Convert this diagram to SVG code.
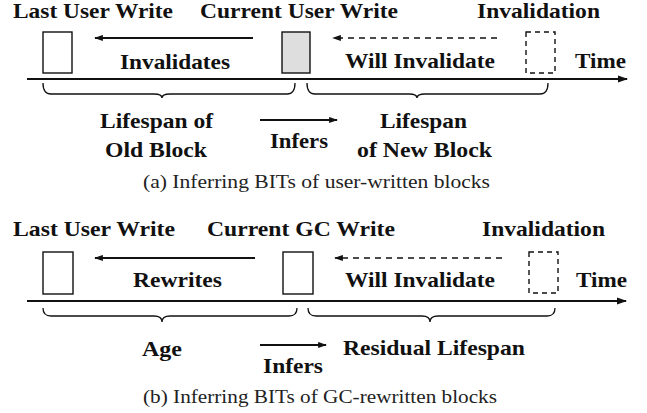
<svg xmlns="http://www.w3.org/2000/svg" width="647" height="413" viewBox="0 0 647 413">
<style>
.b{font-family:"Liberation Serif","Times New Roman",serif;font-weight:bold;font-size:21px;fill:#111}
.c{font-family:"Liberation Serif","Times New Roman",serif;font-size:19px;fill:#222}
.box{fill:#fff;stroke:#111;stroke-width:1.4}
.gray{fill:#dedede;stroke:#111;stroke-width:1.4}
.dbox{fill:none;stroke:#111;stroke-width:1.4;stroke-dasharray:5,4}
.ln{stroke:#111;stroke-width:1.8;fill:none}
.dl{stroke:#111;stroke-width:1.6;fill:none;stroke-dasharray:6,5}
.br{stroke:#111;stroke-width:1.3;fill:none}
</style>
<defs>
<marker id="ah" viewBox="0 0 10 8" refX="9" refY="4" markerWidth="9" markerHeight="7" orient="auto" markerUnits="userSpaceOnUse">
<path d="M0,0.5 L10,4 L0,7.5 z" fill="#111"/>
</marker>
<marker id="ah2" viewBox="0 0 10 8" refX="9" refY="4" markerWidth="10" markerHeight="8" orient="auto" markerUnits="userSpaceOnUse">
<path d="M0,0.5 L10,4 L0,7.5 z" fill="#111"/>
</marker>
</defs>

<!-- Panel (a) -->
<g id="a-last"><text class="b" x="13" y="18" textLength="160" lengthAdjust="spacingAndGlyphs">Last User Write</text><rect class="box" x="43" y="32" width="29" height="41"/></g>
<g id="a-current"><text class="b" x="200" y="18" textLength="198" lengthAdjust="spacingAndGlyphs">Current User Write</text><rect class="gray" x="282" y="32" width="28" height="41"/></g>
<g id="a-inval"><text class="b" x="477" y="18" textLength="123" lengthAdjust="spacingAndGlyphs">Invalidation</text><rect class="dbox" x="526" y="32" width="29" height="41"/></g>
<g id="a-time"><text class="b" x="575" y="68" textLength="51" lengthAdjust="spacingAndGlyphs">Time</text></g>
<g id="a-old"><text class="b" x="100" y="128" textLength="113" lengthAdjust="spacingAndGlyphs">Lifespan of</text><text class="b" x="105" y="157" textLength="102" lengthAdjust="spacingAndGlyphs">Old Block</text></g>
<g id="a-new"><text class="b" x="380" y="128" textLength="87" lengthAdjust="spacingAndGlyphs">Lifespan</text><text class="b" x="357" y="157" textLength="135" lengthAdjust="spacingAndGlyphs">of New Block</text></g>
<text class="c" x="143" y="188" textLength="347" lengthAdjust="spacingAndGlyphs">(a) Inferring BITs of user-written blocks</text>

<g id="a-connectors">
<line class="ln" x1="253" y1="38" x2="95" y2="38" marker-end="url(#ah)"/>
<text class="b" x="120" y="69" textLength="110" lengthAdjust="spacingAndGlyphs">Invalidates</text>
<line class="dl" x1="497" y1="38" x2="333" y2="38" marker-end="url(#ah)"/>
<text class="b" x="345" y="68" textLength="150" lengthAdjust="spacingAndGlyphs">Will Invalidate</text>
<line class="ln" x1="27" y1="79" x2="627" y2="79" marker-end="url(#ah2)"/>
<path class="br" d="M43,83 Q43,94 51,94 L154,94 Q162,94 162,98 Q162,94 170,94 L287,94 Q295,94 295,83"/>
<path class="br" d="M307,83 Q307,94 315,94 L409,94 Q417,94 417,98 Q417,94 425,94 L540,94 Q548,94 548,83"/>
<line class="ln" x1="260" y1="120" x2="337" y2="120" marker-end="url(#ah)"/>
<text class="b" x="270" y="148" textLength="58" lengthAdjust="spacingAndGlyphs">Infers</text>
</g>

<!-- Panel (b) -->
<g id="b-last"><text class="b" x="13" y="236" textLength="162" lengthAdjust="spacingAndGlyphs">Last User Write</text><rect class="box" x="43" y="252" width="30" height="42"/></g>
<g id="b-current"><text class="b" x="207" y="236" textLength="188" lengthAdjust="spacingAndGlyphs">Current GC Write</text><rect class="box" x="283" y="252" width="30" height="42"/></g>
<g id="b-inval"><text class="b" x="482" y="236" textLength="123" lengthAdjust="spacingAndGlyphs">Invalidation</text><rect class="dbox" x="529" y="252" width="29" height="41"/></g>
<g id="b-time"><text class="b" x="576" y="287" textLength="51" lengthAdjust="spacingAndGlyphs">Time</text></g>
<g id="b-age"><text class="b" x="142" y="356" textLength="40" lengthAdjust="spacingAndGlyphs">Age</text></g>
<g id="b-residual"><text class="b" x="343" y="355" textLength="182" lengthAdjust="spacingAndGlyphs">Residual Lifespan</text></g>
<text class="c" x="143" y="403" textLength="354" lengthAdjust="spacingAndGlyphs">(b) Inferring BITs of GC-rewritten blocks</text>

<g id="b-connectors">
<line class="ln" x1="255" y1="258" x2="95" y2="258" marker-end="url(#ah)"/>
<text class="b" x="133" y="287" textLength="89" lengthAdjust="spacingAndGlyphs">Rewrites</text>
<line class="dl" x1="502" y1="258" x2="335" y2="258" marker-end="url(#ah)"/>
<text class="b" x="345" y="287" textLength="150" lengthAdjust="spacingAndGlyphs">Will Invalidate</text>
<line class="ln" x1="27" y1="301" x2="626" y2="301" marker-end="url(#ah2)"/>
<path class="br" d="M43,308 Q43,316 51,316 L154,316 Q162,316 162,322 Q162,316 170,316 L289,316 Q297,316 297,308"/>
<path class="br" d="M308,308 Q308,316 316,316 L422,316 Q430,316 430,322 Q430,316 438,316 L547,316 Q555,316 555,308"/>
<line class="ln" x1="260" y1="345" x2="326" y2="345" marker-end="url(#ah)"/>
<text class="b" x="263" y="373" textLength="60" lengthAdjust="spacingAndGlyphs">Infers</text>
</g>
</svg>
